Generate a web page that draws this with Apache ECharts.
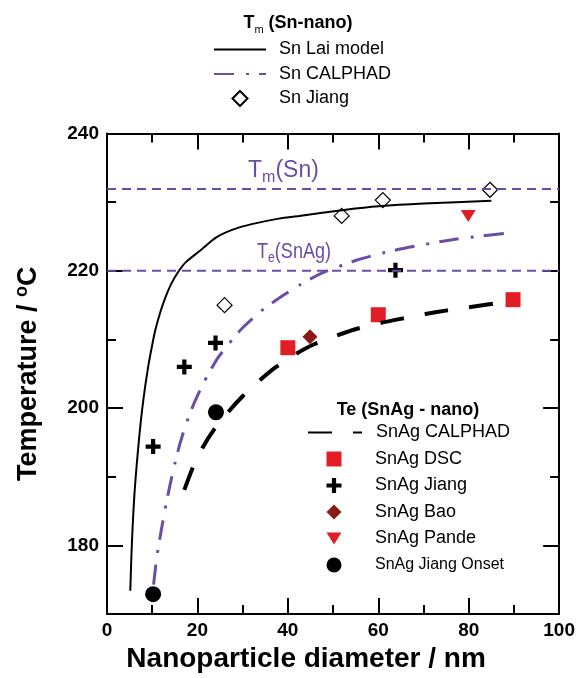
<!DOCTYPE html>
<html><head><meta charset="utf-8">
<script src="https://cdn.jsdelivr.net/npm/echarts@6/dist/echarts.min.js"></script>
<style>html,body{margin:0;padding:0;background:#fff}#c{width:578px;height:678px}</style>
</head><body><div id="c"></div>
<script>
const FONT = '"Liberation Sans", Arial, Helvetica, sans-serif';
const PURPLE = '#6a4ea6';
const RED = '#e31d25';
const DARKRED = '#8b1a16';

// ---- data (x: nanoparticle diameter / nm, y: temperature / °C) ----
const xTickLabels = [0, 20, 40, 60, 80, 100];
const yTickLabels = [180, 200, 220, 240];
const yMinorTicks = [190, 210, 230];

const tmSnLine = [[0, 231.9], [100, 231.9]];      // Tm(Sn)
const teSnAgLine = [[0, 220.0], [100, 220.0]];    // Te(SnAg)

const snLaiModel = [[5.15,173.4],[5.4,178.5],[5.7,183.2],[6.1,187.8],[6.6,192.0],[7.2,196.3],[7.7,199.4],[8.4,203.0],[9.2,206.4],[10.0,209.2],[10.7,211.4],[11.8,214.0],[12.9,216.1],[14.2,218.1],[15.7,219.8],[17.5,221.3],[20.5,222.9],[24.0,224.8],[27.8,226.0],[32.0,226.8],[38.0,227.6],[42.5,228.0],[52.8,228.9],[60.1,229.4],[70.0,229.8],[85.0,230.2]];
const snCalphad = [[10.3,174.3],[11.0,178.2],[12.0,182.2],[13.0,185.8],[14.0,189.0],[15.0,191.9],[16.0,194.5],[17.3,197.3],[19.0,200.3],[21.3,203.6],[24.2,207.0],[27.1,209.5],[30.0,211.7],[34.0,214.1],[38.9,216.4],[42.5,217.9],[47.6,219.7],[55.0,221.5],[61.0,222.6],[67.4,223.5],[77.0,224.6],[90.0,225.6]];
const snJiang = [[26.0,215.0],[51.9,228.0],[61.0,230.3],[84.7,231.8]];

const snAgCalphad = [[17.1,188.1],[18.9,191.2],[21.1,194.2],[23.7,196.9],[26.9,199.5],[30.1,201.8],[33.7,204.0],[37.4,206.0],[41.8,207.9],[45.8,209.3],[50.9,210.6],[55.5,211.6],[60.5,212.4],[64.9,213.0],[70.4,213.7],[74.9,214.2],[80.0,214.7],[88.7,215.5]];
const snAgDsc = [[40.0,208.8],[60.0,213.6],[89.8,215.8]];
const snAgJiang = [[10.2,194.4],[17.1,206.0],[24.0,209.5],[63.8,220.1]];
const snAgBao = [[44.9,210.4]];
const snAgPande = [[79.9,228.0]];
const snAgJiangOnset = [[10.2,172.9],[24.1,199.4]];

const PLUS = 'path://M3.6,0H6.4V3.6H10V6.4H6.4V10H3.6V6.4H0V3.6H3.6Z';
const DOWN_TRI = 'path://M0,0H10L5,8Z';

const chart = echarts.init(document.getElementById('c'), null, {renderer: 'canvas'});

const baseAxisLine = {show: true, onZero: false, lineStyle: {color: '#000', width: 2}};
function xAxisDef(pos, showLabel) {
  return {
    type: 'value', position: pos, min: 0, max: 100, interval: 20,
    axisLine: baseAxisLine,
    axisTick: {show: true, inside: true, length: 16, lineStyle: {color: '#000', width: 2}},
    minorTick: {show: true, splitNumber: 2, length: 9, lineStyle: {color: '#000', width: 2}},
    splitLine: {show: false}, minorSplitLine: {show: false},
    axisLabel: {show: showLabel, color: '#000', fontFamily: FONT, fontWeight: 'bold', fontSize: 19, margin: 7},
    name: showLabel ? 'Nanoparticle diameter / nm' : '',
    nameLocation: 'middle', nameGap: 26,
    nameTextStyle: {color: '#000', fontFamily: FONT, fontWeight: 'bold', fontSize: 28, padding: [0, 54, 0, 0]}
  };
}
function yAxisDef(pos, ticks, len, showLine, showLabel) {
  return {
    type: 'value', position: pos, min: 170, max: 240, interval: 10,
    axisLine: showLine ? baseAxisLine : {show: false, onZero: false},
    axisTick: {show: true, inside: true, length: len, customValues: ticks, lineStyle: {color: '#000', width: 2}},
    splitLine: {show: false},
    axisLabel: {show: showLabel, customValues: yTickLabels, color: '#000', fontFamily: FONT, fontWeight: 'bold', fontSize: 19, margin: 8},
    name: showLabel ? 'Temperature / {sup|o}C' : '',
    nameLocation: 'middle', nameRotate: 90, nameGap: 62,
    nameTextStyle: {color: '#000', fontFamily: FONT, fontWeight: 'bold', fontSize: 27,
      rich: {sup: {color: '#000', fontFamily: FONT, fontWeight: 'bold', fontSize: 18, padding: [0, 0, 14, 0]}}}
  };
}

const hideSym = {opacity: 0};
function legendText(size, padLeft) {
  return {color: '#000', fontFamily: FONT, fontSize: size, lineHeight: 20, padding: [0, 0, 0, padLeft]};
}
const option = {
  animation: false,
  backgroundColor: '#fff',
  grid: {left: 107, right: 18, top: 133.5, bottom: 57.4, containLabel: false},
  xAxis: [xAxisDef('bottom', true), xAxisDef('top', false)],
  yAxis: [
    yAxisDef('left', yTickLabels, 16, true, true),
    yAxisDef('left', yMinorTicks, 9, false, false),
    yAxisDef('right', yTickLabels, 16, true, false),
    yAxisDef('right', yMinorTicks, 9, false, false)
  ],
  legend: [
    { // Sn lines
      data: [{name: 'Sn Lai model', itemStyle: hideSym}, {name: 'Sn CALPHAD', itemStyle: hideSym}],
      orient: 'vertical', left: 213, top: 39.5, padding: 0,
      itemWidth: 52, itemHeight: 15, itemGap: 4.5, selectedMode: false,
      textStyle: legendText(18, 8)
    },
    { // Sn symbols
      data: ['Sn Jiang'],
      orient: 'vertical', left: 231.5, top: 88.5, padding: 0,
      itemWidth: 15, itemHeight: 15, itemGap: 4.5, selectedMode: false,
      textStyle: legendText(18, 26.5)
    },
    { // SnAg line
      data: [{name: 'SnAg CALPHAD', itemStyle: hideSym}],
      orient: 'vertical', left: 307, top: 422.5, padding: 0,
      itemWidth: 54, itemHeight: 15, itemGap: 6.5, selectedMode: false,
      textStyle: legendText(18, 9)
    },
    { // SnAg symbols
      data: ['SnAg DSC', 'SnAg Jiang', 'SnAg Bao', {name: 'SnAg Pande', icon: DOWN_TRI},
             {name: 'SnAg Jiang Onset', textStyle: {fontSize: 16}}],
      orient: 'vertical', left: 326.5, top: 449, padding: 0,
      itemWidth: 15, itemHeight: 15, itemGap: 6.5, selectedMode: false,
      textStyle: legendText(18, 28.5)
    }
  ],
  graphic: [
    {type: 'text', x: 298, y: 23, style: {text: '{b|T}{s|m}{b| (Sn-nano)}', align: 'center', verticalAlign: 'middle',
      rich: {b: {fontFamily: FONT, fontWeight: 'bold', fontSize: 18, fill: '#000', color: '#000'},
             s: {fontFamily: FONT, fontSize: 11, fill: '#000', color: '#000', padding: [14, 0, 0, 0]}}}},
    {type: 'text', x: 408, y: 410, style: {text: 'Te (SnAg - nano)', align: 'center', verticalAlign: 'middle',
      fontFamily: FONT, fontWeight: 'bold', fontSize: 18, fill: '#000'}},
    {type: 'text', x: 248, y: 171, style: {text: '{b|T}{s|m}{b|(Sn)}', align: 'left', verticalAlign: 'middle',
      rich: {b: {fontFamily: FONT, fontSize: 23, fill: PURPLE, color: PURPLE},
             s: {fontFamily: FONT, fontSize: 16, fill: PURPLE, color: PURPLE, padding: [14, 0, 0, 0]}}}},
    {type: 'text', x: 257, y: 252, scaleX: 0.82, style: {text: '{b|T}{s|e}{b|(SnAg)}', align: 'left', verticalAlign: 'middle',
      rich: {b: {fontFamily: FONT, fontSize: 22, fill: PURPLE, color: PURPLE},
             s: {fontFamily: FONT, fontSize: 15, fill: PURPLE, color: PURPLE, padding: [12, 0, 0, 0]}}}}
  ],
  series: [
    {name: 'Tm(Sn) line', type: 'line', data: tmSnLine, symbol: 'none', silent: true,
     lineStyle: {color: PURPLE, width: 2, type: [9, 6]}},
    {name: 'Te(SnAg) line', type: 'line', data: teSnAgLine, symbol: 'none', silent: true,
     lineStyle: {color: PURPLE, width: 2, type: [9, 6]}},
    {name: 'Sn Lai model', type: 'line', data: snLaiModel, symbol: 'none', smooth: 0.2,
     itemStyle: {color: '#000'}, lineStyle: {color: '#000', width: 2}},
    {name: 'Sn CALPHAD', type: 'line', data: snCalphad, symbol: 'none', smooth: 0.2,
     itemStyle: {color: PURPLE}, lineStyle: {color: PURPLE, width: 3, type: [20, 12, 3, 10]}},
    {name: 'SnAg CALPHAD', type: 'line', data: snAgCalphad, symbol: 'none', smooth: 0.2,
     itemStyle: {color: '#000'}, lineStyle: {color: '#000', width: 4, type: [24, 21]}},
    {name: 'Sn Jiang', type: 'scatter', data: snJiang, symbol: 'diamond', symbolSize: 15,
     itemStyle: {color: '#fff', borderColor: '#000', borderWidth: 1.2, opacity: 1}},
    {name: 'SnAg DSC', type: 'scatter', data: snAgDsc, symbol: 'rect', symbolSize: 15,
     itemStyle: {color: RED, opacity: 1}},
    {name: 'SnAg Jiang', type: 'scatter', data: snAgJiang, symbol: PLUS, symbolSize: 15,
     itemStyle: {color: '#000', opacity: 1}},
    {name: 'SnAg Bao', type: 'scatter', data: snAgBao, symbol: 'diamond', symbolSize: 15,
     itemStyle: {color: DARKRED, opacity: 1}},
    {name: 'SnAg Pande', type: 'scatter', data: snAgPande, symbol: 'triangle', symbolRotate: 180, symbolSize: [15, 12],
     itemStyle: {color: RED, opacity: 1}},
    {name: 'SnAg Jiang Onset', type: 'scatter', data: snAgJiangOnset, symbol: 'circle', symbolSize: 16,
     itemStyle: {color: '#000', opacity: 1}}
  ]
};
chart.setOption(option);
</script>
</body></html>
